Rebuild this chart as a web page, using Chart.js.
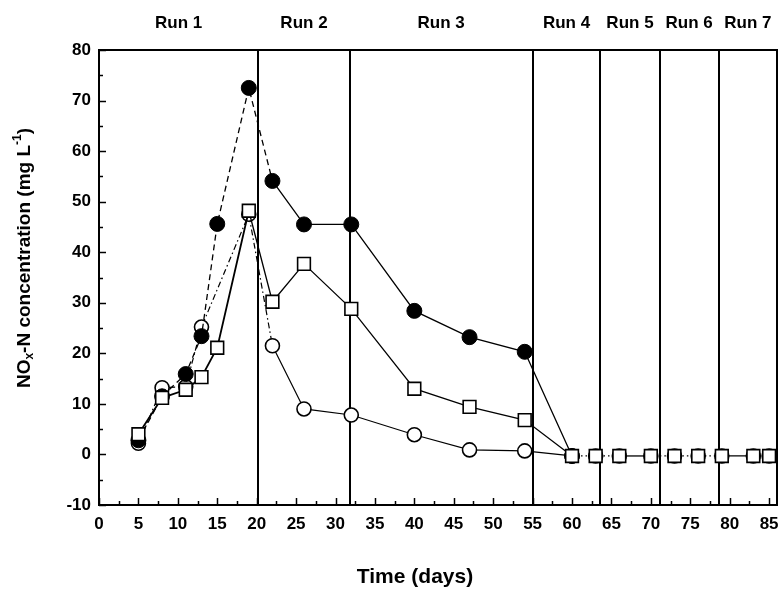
<!DOCTYPE html>
<html>
<head>
<meta charset="utf-8">
<script src="https://cdn.jsdelivr.net/npm/chart.js@4.4.0/dist/chart.umd.min.js"></script>
<style>
  html, body { margin: 0; padding: 0; background: #fff; }
</style>
</head>
<body>
<canvas id="nox-chart" width="780" height="592"></canvas>
<script>
// NOx-N concentration over time, three series, seven runs

const runLabels = ['Run 1', 'Run 2', 'Run 3', 'Run 4', 'Run 5', 'Run 6', 'Run 7'];
// run boundaries in days (first and last = axis limits)
const runEdges = [0, 20.2, 31.8, 55, 63.6, 71.1, 78.6, 86];

const filledDays = [5, 8, 11, 13, 15, 19, 22, 26, 32, 40, 47, 54, 60];
const filledNOx  = [2.8, 11.5, 15.9, 23.4, 45.6, 72.5, 54.1, 45.5, 45.5, 28.4, 23.2, 20.3, -0.3];

const openDays = [5, 8, 11, 13, 19, 22, 26, 32, 40, 47, 54, 60, 63, 66, 70, 73, 76, 79, 83, 85];
const openNOx  = [2.2, 13.2, 13.4, 25.2, 47.5, 21.5, 9.0, 7.8, 3.9, 0.9, 0.7, -0.3, -0.3, -0.3, -0.3, -0.3, -0.3, -0.3, -0.3, -0.3];

const squareDays = [5, 8, 11, 13, 15, 19, 22, 26, 32, 40, 47, 54, 60, 63, 66, 70, 73, 76, 79, 83, 85];
const squareNOx  = [4.0, 11.2, 12.8, 15.3, 21.1, 48.2, 30.2, 37.7, 28.8, 13.0, 9.4, 6.8, -0.3, -0.3, -0.3, -0.3, -0.3, -0.3, -0.3, -0.3, -0.3];

const xTicks = { min: 0, max: 86, step: 5 };
const yTicks = { min: -10, max: 80, step: 10 };

const FONT = "'Liberation Sans', Arial, sans-serif";

const pts = (xs, ys) => xs.map((x, i) => ({ x, y: ys[i] }));

// frame, inward ticks, run separators, labels, axis titles
const decor = {
  id: 'decor',
  beforeDatasetsDraw(chart) {
    const { ctx, chartArea: a, scales: { x } } = chart;
    ctx.save();
    ctx.strokeStyle = '#000';
    ctx.lineWidth = 2;
    runEdges.slice(1, -1).forEach(d => {
      const px = Math.round(x.getPixelForValue(d));
      ctx.beginPath();
      ctx.moveTo(px, a.top);
      ctx.lineTo(px, a.bottom);
      ctx.stroke();
    });
    ctx.restore();
  },
  afterDraw(chart) {
    const { ctx, chartArea: a, scales: { x, y } } = chart;
    ctx.save();
    ctx.strokeStyle = '#000';
    ctx.lineWidth = 2;
    ctx.strokeRect(a.left, a.top, a.right - a.left, a.bottom - a.top);

    // y ticks (major every 10, minor every 5), pointing inward
    ctx.lineWidth = 1.5;
    for (let v = yTicks.min; v <= yTicks.max; v += yTicks.step / 2) {
      const py = Math.round(y.getPixelForValue(v)) + 0.5;
      const len = (v % yTicks.step === 0) ? 7 : 4;
      ctx.beginPath();
      ctx.moveTo(a.left, py);
      ctx.lineTo(a.left + len, py);
      ctx.stroke();
    }
    // x ticks (major every 5, minor every 2.5)
    for (let v = xTicks.min; v <= xTicks.max; v += xTicks.step / 2) {
      const px = Math.round(x.getPixelForValue(v)) + 0.5;
      const len = (v % xTicks.step === 0) ? 7 : 4;
      ctx.beginPath();
      ctx.moveTo(px, a.bottom);
      ctx.lineTo(px, a.bottom - len);
      ctx.stroke();
    }

    // run labels centred in each run
    ctx.fillStyle = '#000';
    ctx.font = `bold 17px ${FONT}`;
    ctx.textAlign = 'center';
    ctx.textBaseline = 'middle';
    runLabels.forEach((lab, i) => {
      const mid = (runEdges[i] + runEdges[i + 1]) / 2;
      ctx.fillText(lab, x.getPixelForValue(mid), 23);
    });

    // x title
    ctx.font = `bold 21px ${FONT}`;
    ctx.fillText('Time (days)', 415, 577);

    // y title with subscript / superscript
    const parts = [
      { t: 'NO', size: 19, dy: 0 },
      { t: 'x', size: 12, dy: 5 },
      { t: '-N concentration (mg L', size: 19, dy: 0 },
      { t: '-1', size: 12, dy: -7 },
      { t: ')', size: 19, dy: 0 }
    ];
    ctx.textAlign = 'left';
    let total = 0;
    parts.forEach(p => { ctx.font = `bold ${p.size}px ${FONT}`; p.w = ctx.measureText(p.t).width; total += p.w; });
    ctx.translate(25, 258);
    ctx.rotate(-Math.PI / 2);
    let cx = -total / 2;
    parts.forEach(p => {
      ctx.font = `bold ${p.size}px ${FONT}`;
      ctx.fillText(p.t, cx, p.dy);
      cx += p.w;
    });
    ctx.restore();
  }
};

new Chart(document.getElementById('nox-chart'), {
  type: 'line',
  data: {
    datasets: [
      {
        label: 'squares',
        data: pts(squareDays, squareNOx),
        borderColor: '#000',
        borderWidth: 1.3,
        pointStyle: 'rect',
        pointRadius: 9,
        pointBorderWidth: 1.6,
        pointBorderColor: '#000',
        pointBackgroundColor: '#fff',
        segment: {
          borderWidth: c => c.p1.parsed.x <= 19 ? 1.8 : 1.3,
          borderDash: c => (c.p0.parsed.x >= 60 && c.p1.parsed.x - c.p0.parsed.x < 4) ? [1.5, 3] : []
        }
      },
      {
        label: 'filled circles',
        data: pts(filledDays, filledNOx),
        borderColor: '#000',
        borderWidth: 1.3,
        pointStyle: 'circle',
        pointRadius: 7.5,
        pointBorderWidth: 1,
        pointBorderColor: '#000',
        pointBackgroundColor: '#000',
        segment: {
          borderDash: c => c.p1.parsed.x <= 22 ? [6, 4] : []
        }
      },
      {
        label: 'open circles',
        data: pts(openDays, openNOx),
        borderColor: '#000',
        borderWidth: 1.2,
        pointStyle: 'circle',
        pointRadius: 7,
        pointBorderWidth: 1.6,
        pointBorderColor: '#000',
        pointBackgroundColor: '#fff',
        segment: {
          borderDash: c => c.p1.parsed.x <= 22 ? [6, 3, 1.5, 3] : [],
          borderColor: c => c.p0.parsed.x >= 60 ? 'rgba(0,0,0,0)' : '#000'
        }
      }
    ]
  },
  options: {
    responsive: false,
    animation: false,
    clip: false,
    layout: { autoPadding: false, padding: { top: 50, right: 3, left: 0, bottom: 0 } },
    plugins: { legend: { display: false }, tooltip: { enabled: false } },
    elements: { line: { tension: 0 } },
    scales: {
      x: {
        type: 'linear',
        min: xTicks.min,
        max: xTicks.max,
        afterFit: s => { s.height = 87; s.paddingLeft = 0; s.paddingRight = 0; },
        grid: { display: false, drawTicks: false },
        border: { display: false },
        ticks: {
          stepSize: xTicks.step,
          includeBounds: false,
          padding: 9,
          color: '#000',
          font: { family: FONT, size: 17, weight: 'bold' }
        }
      },
      y: {
        min: yTicks.min,
        max: yTicks.max,
        afterFit: s => { s.width = 99; s.paddingTop = 0; s.paddingBottom = 0; },
        grid: { display: false, drawTicks: false },
        border: { display: false },
        ticks: {
          stepSize: yTicks.step,
          padding: 8,
          color: '#000',
          font: { family: FONT, size: 17, weight: 'bold' }
        }
      }
    }
  },
  plugins: [decor]
});
</script>
</body>
</html>
